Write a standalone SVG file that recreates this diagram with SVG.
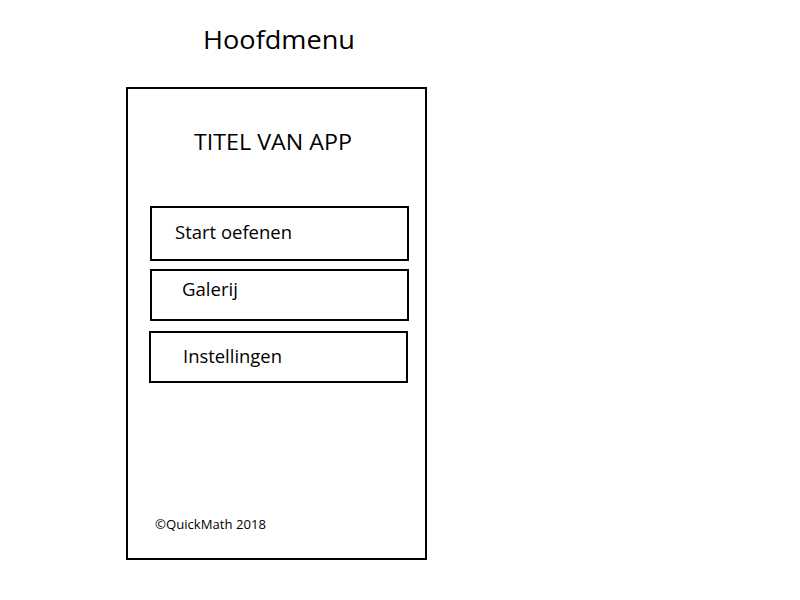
<svg xmlns="http://www.w3.org/2000/svg" width="800" height="600" viewBox="0 0 800 600">
<style>
rect{fill:#fff;stroke:#000;stroke-width:2}
text{font-family:"Open Sans","Liberation Sans",sans-serif;fill:#000}
.t{font-size:26px}
.m{font-size:22px}
.b{font-size:18px}
.s{font-size:13px}
</style>
<rect x="0" y="0" width="800" height="600" style="stroke:none"/>
<text class="t" x="203" y="49" textLength="152" lengthAdjust="spacingAndGlyphs">Hoofdmenu</text>
<g id="screen">
<rect x="127" y="88" width="299" height="471"/>
<text class="m" x="194" y="150" textLength="158" lengthAdjust="spacingAndGlyphs">TITEL VAN APP</text>
<text class="s" x="155" y="529" textLength="111" lengthAdjust="spacingAndGlyphs">©QuickMath 2018</text>
</g>
<g id="btn-start">
<rect x="151" y="207" width="257" height="53"/>
<text class="b" x="175" y="239" textLength="117" lengthAdjust="spacingAndGlyphs">Start oefenen</text>
</g>
<g id="btn-galerij">
<rect x="151" y="270" width="257" height="50"/>
<text class="b" x="182" y="296" textLength="56" lengthAdjust="spacingAndGlyphs">Galerij</text>
</g>
<g id="btn-instellingen">
<rect x="150" y="332" width="257" height="50"/>
<text class="b" x="183" y="363" textLength="99" lengthAdjust="spacingAndGlyphs">Instellingen</text>
</g>
<g id="connectors"/>
</svg>
